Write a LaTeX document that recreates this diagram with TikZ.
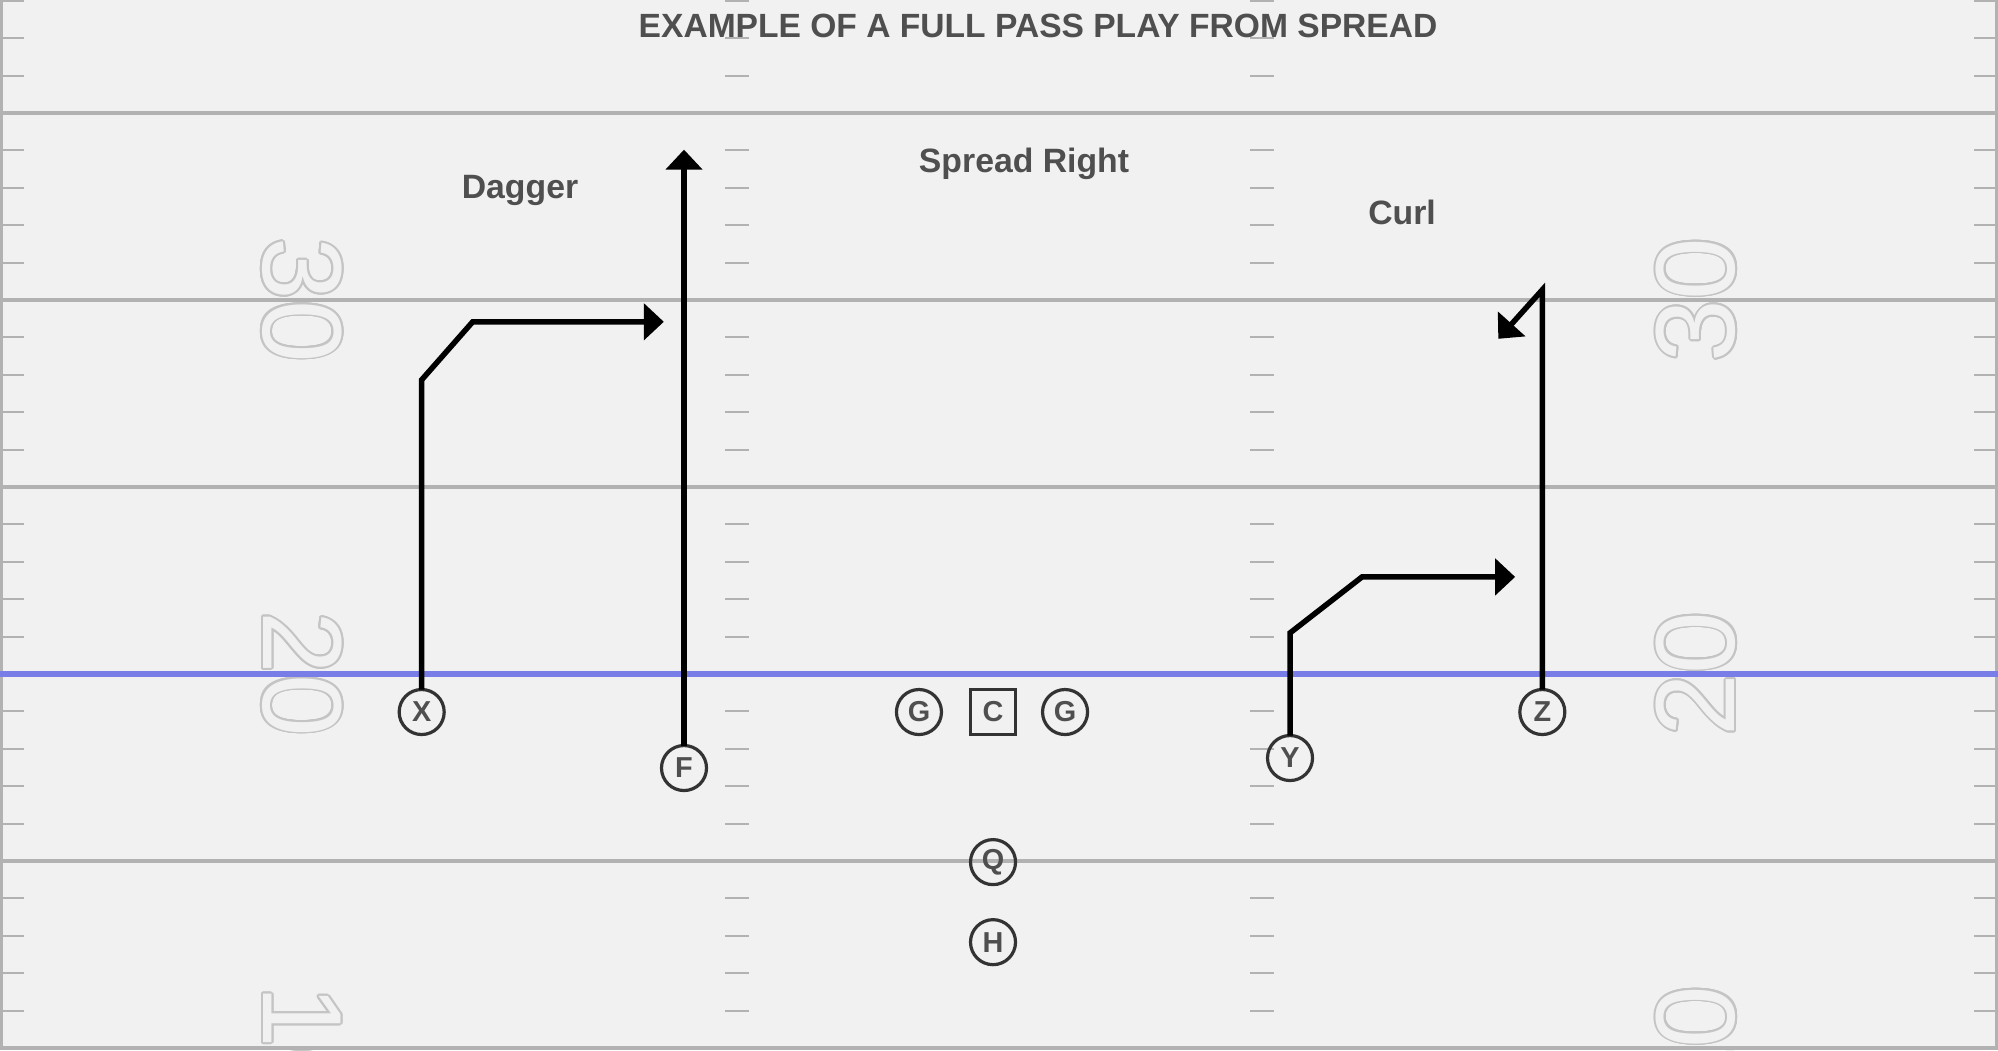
\documentclass[tikz,border=0pt]{standalone}
\usepackage{fontspec}
\setmainfont{Liberation Sans}
\usepackage{contour}
\usetikzlibrary{positioning,arrows.meta}

\definecolor{turf}{HTML}{F1F1F1}
\definecolor{chalk}{HTML}{B2B2B2}
\definecolor{numline}{HTML}{C4C4C4}
\definecolor{scrim}{HTML}{797DE8}
\definecolor{ink}{HTML}{333333}
\definecolor{label}{HTML}{4F4F4F}
\contourlength{0.55pt}

\tikzset{
  player/.style={circle, draw=ink, line width=0.032cm, minimum size=0.45cm,
    inner sep=0pt, outer sep=0pt, text=label,
    font=\fontsize{8.2pt}{9pt}\selectfont\bfseries},
  snapper/.style={player, rectangle},
  route/.style={line width=0.055cm, -{Triangle[width=0.36cm,length=0.2cm]}},
  playname/.style={anchor=base, text=label, inner sep=0pt,
    font=\fontsize{9.6pt}{11pt}\selectfont\bfseries},
  yardline/.style={draw=chalk, line width=0.04cm},
  hashmark/.style={draw=chalk, line width=0.02cm},
  yardnum/.style={text=turf, inner sep=0pt, font=\fontsize{32pt}{40pt}\selectfont},
}

\begin{document}
\begin{tikzpicture}[x=0.01cm, y=-0.01cm]
      \clip (0,0) rectangle (1998,1050);
      \fill[turf] (0,0) rectangle (1998,1050);

      % Yard numbers, outlined
      \foreach \ny/\num in {300/30, 674/20, 1048/10} {
        \node[yardnum, rotate=-90] (numL\num) at (301,\ny) {\contour{numline}{\num}};
        \node[yardnum, rotate=90] (numR\num) at (1697,\ny) {\contour{numline}{\num}};
      }

      % Yard lines and hash marks
      \foreach \k in {0,1,2,4,5}
        \draw[yardline] (0,{113+187*\k}) -- (1998,{113+187*\k});
      \foreach \k in {-1,...,5}
        \foreach \j in {1,...,4}
          \foreach \hx in {0,725,1250,1974}
            \draw[hashmark] (\hx,{113+187*\k+37.4*\j}) -- ({\hx+24},{113+187*\k+37.4*\j});
      \draw[yardline] (1,0) -- (1,1050);
      \draw[yardline] (1997,0) -- (1997,1050);

      % Line of scrimmage
      \draw[scrim, line width=0.055cm] (0,674) -- (1998,674);

      % Titles
      \node[playname, font=\fontsize{9.55pt}{11pt}\selectfont\bfseries] (title) at (1038,37)
        {EXAMPLE OF A FULL PASS PLAY FROM SPREAD};
      \node[playname] (formation) at (1024,172) {Spread Right};
      \node[playname] (dagger) at (520,198) {Dagger};
      \node[playname] (curl) at (1402,224) {Curl};

      % Offensive line and backs
      \node[snapper] (C) at (993,712) {C};
      \node[player, left=0.29cm of C] (GL) {G};
      \node[player, right=0.27cm of C] (GR) {G};
      \node[player, below=1.05cm of C] (Q) {Q};
      \node[player, below=0.35cm of Q] (H) {H};

      % Receivers
      \node[player, left=4.52cm of GL] (X) {X};
      \node[player, right=4.32cm of GR] (Z) {Z};
      \node[player] (F) at (684,768) {F};
      \node[player] (Y) at (1290,758) {Y};

      % Route break points
      \coordinate[above=3.32cm of X.center] (xcut);
      \coordinate[above right=0.58cm and 0.51cm of xcut] (xbreak);
      \coordinate[right=1.91cm of xbreak] (xtip);

      \coordinate[above=6.18cm of F.center] (ftip);

      \coordinate[above=1.25cm of Y.center] (ycut);
      \coordinate[above right=0.56cm and 0.72cm of ycut] (ybreak);
      \coordinate[right=1.53cm of ybreak] (ytip);

      \coordinate[above=4.22cm of Z.center] (zcut);
      \coordinate[below left=0.49cm and 0.44cm of zcut] (ztip);

      % Routes
      \draw[route] (X) -- (xcut) -- (xbreak) -- (xtip);
      \draw[route] (F) -- (ftip);
      \draw[route] (Y) -- (ycut) -- (ybreak) -- (ytip);
      \draw[route] (Z) -- (zcut) -- (ztip);
    \end{tikzpicture}
\end{document}
